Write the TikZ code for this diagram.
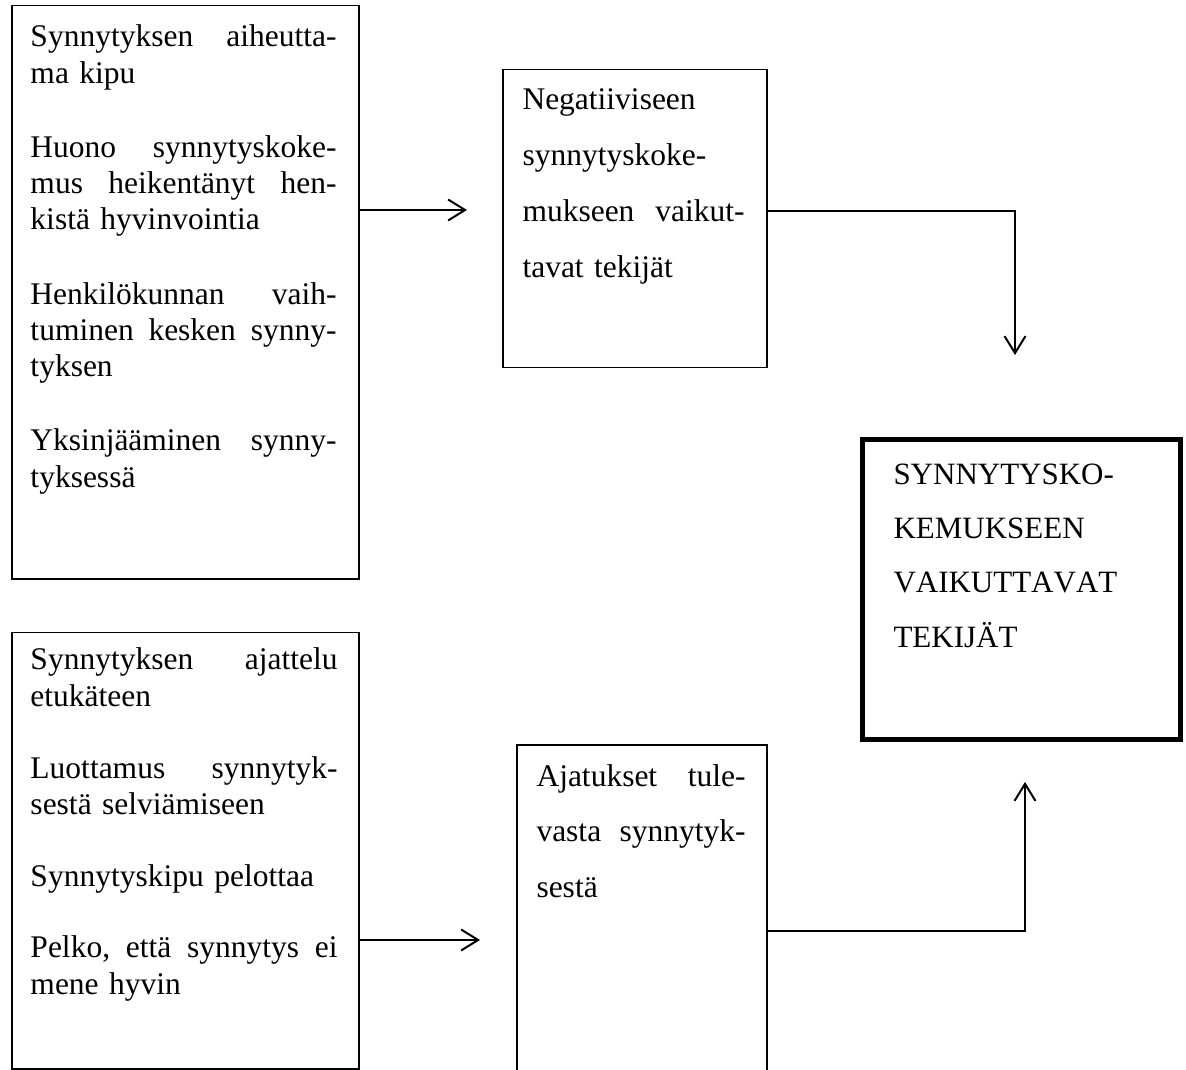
\documentclass[tikz,border=0pt]{standalone}
\usepackage{fontspec}
\setmainfont[Kerning=Off]{Liberation Serif}
\usetikzlibrary{arrows.meta}

\tikzset{
  box/.style={draw, line width=0.6pt, inner sep=0pt, anchor=north west},
  mainbox/.style={box, line width=2pt},
  txt/.style={anchor=base west, inner sep=0pt, align=left,
    font=\fontsize{12.6pt}{14.5pt}\selectfont},
  wide/.style={txt, font=\fontsize{12.6pt}{22.3pt}\selectfont},
  flow/.style={line width=0.8pt, -{Straight Barb[length=6.8pt,width=8.4pt]}},
}

\begin{document}
\begin{tikzpicture}[x=0.4pt, y=-0.4pt]
  \useasboundingbox (0,0) rectangle (1186,1070);
  \fill[white] (0,0) rectangle (1186,1070);
  \clip (0,0) rectangle (1186,1070);

  % boxes
  \node[box, minimum width=138.8pt, minimum height=229.2pt] (tlbox) at (11,5) {};
  \node[box, minimum width=138.8pt, minimum height=174.4pt] (blbox) at (11,632) {};
  \node[box, minimum width=105.6pt, minimum height=119.2pt] (mtbox) at (502,69) {};
  \node[box, minimum width=100pt, minimum height=160pt] (mbbox) at (516,744) {};
  \node[mainbox, minimum width=127.2pt, minimum height=120pt] (rbox) at (860,437) {};

  % texts
  \node[txt, text width=122.4pt] (tltext) at (30,47) {Synnytyksen\hfill aiheutta-\\ma kipu\\[15.2pt]Huono\hfill synnytyskoke-\\mus\hfill heikentänyt\hfill hen-\\kistä hyvinvointia\\[15.2pt]Henkilökunnan\hfill vaih-\\tuminen\hfill kesken\hfill synny-\\tyksen\\[15.2pt]Yksinjääminen\hfill synny-\\tyksessä};
  \node[txt, text width=122.8pt] (bltext) at (30,670) {Synnytyksen\hfill ajattelu\\etukäteen\\[14.2pt]Luottamus\hfill synnytyk-\\sestä selviämiseen\\[14.2pt]Synnytyskipu pelottaa\\[14.2pt]Pelko,\hfill että\hfill synnytys\hfill ei\\mene hyvin};
  \node[wide, text width=88.8pt] (mttext) at (522,110) {Negatiiviseen\\synnytyskoke-\\mukseen\hfill vaikut-\\tavat tekijät};
  \node[wide, text width=83.6pt] (mbtext) at (536,786) {Ajatukset\hfill tule-\\vasta\hfill synnytyk-\\sestä};
  \node[txt, text width=108pt, font=\fontsize{12.4pt}{21.6pt}\selectfont] (rtext) at (893,485) {SYNNYTYSKO-\\KEMUKSEEN\\VAIKUTTAVAT\\TEKIJÄT};

  % connectors
  \coordinate (tip1) at (467,210);
  \coordinate (tip2) at (1015,355);
  \coordinate (tip3) at (480,940);
  \coordinate (tip4) at (1025,782);
  \draw[flow] (tlbox.east |- tip1) -- (tip1);
  \draw[flow] (mtbox.east |- 0,211) -| (tip2);
  \draw[flow] (blbox.east |- tip3) -- (tip3);
  \draw[flow] (mbbox.east |- 0,931) -| (tip4);
\end{tikzpicture}
\end{document}
